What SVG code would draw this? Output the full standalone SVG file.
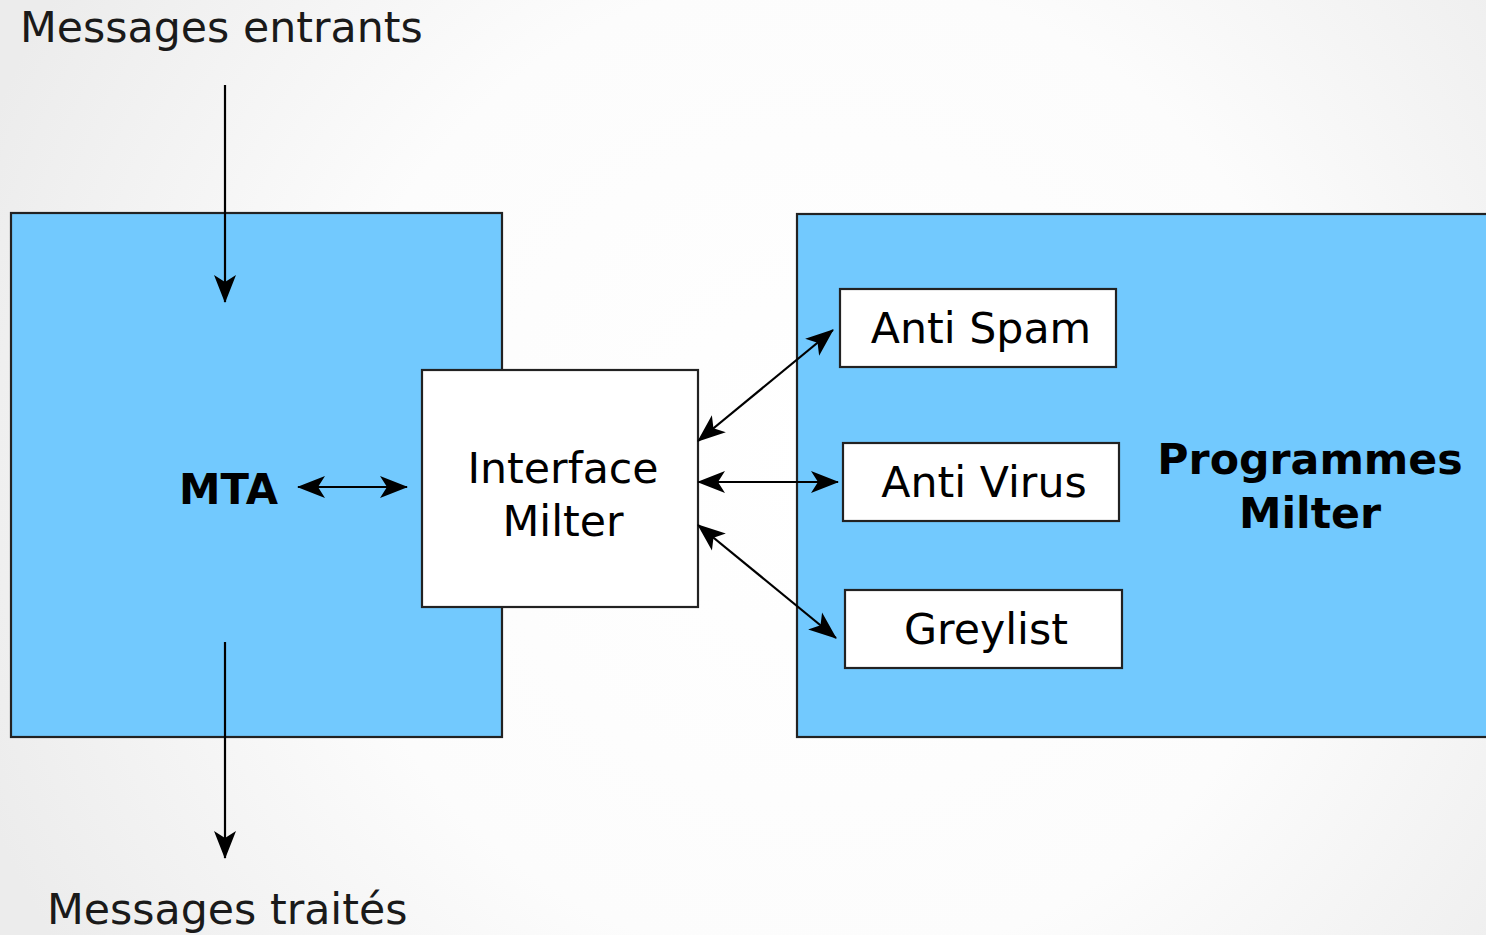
<svg xmlns="http://www.w3.org/2000/svg" width="1486" height="935" viewBox="0 0 1486 935">
  <defs>
    <radialGradient id="bg" cx="820" cy="470" r="900" gradientUnits="userSpaceOnUse">
      <stop offset="0" stop-color="#ffffff"/>
      <stop offset="0.55" stop-color="#fcfcfc"/>
      <stop offset="1" stop-color="#ececec"/>
    </radialGradient>
    <marker id="head" viewBox="-31 -13 33 26" refX="0" refY="0" markerWidth="33" markerHeight="26" markerUnits="userSpaceOnUse" orient="auto-start-reverse">
      <path d="M1,0 L-27,-11 L-20,0 L-27,11 Z" fill="#000"/>
    </marker>
    <style>
      .zone { fill: #72c9fe; stroke: #222; stroke-width: 2.2; }
      .box { fill: #ffffff; stroke: #222; stroke-width: 2.2; }
      .lbl { font-family: "DejaVu Sans", "Liberation Sans", sans-serif; font-size: 42.7px; fill: #000; }
      .outer { fill: #1a1a1a; }
      .bold { font-weight: bold; }
      .mid { text-anchor: middle; }
      .link { stroke: #000; stroke-width: 2.2; fill: none; }
      .one { marker-end: url(#head); }
      .two { marker-start: url(#head); marker-end: url(#head); }
    </style>
  </defs>

  <rect width="1486" height="935" fill="url(#bg)"/>

  <!-- MTA area -->
  <g id="mta">
    <rect class="zone" x="11" y="213" width="491" height="524"/>
    <text class="lbl bold" x="179" y="504" textLength="99" lengthAdjust="spacingAndGlyphs">MTA</text>
  </g>

  <!-- Milter programs area -->
  <g id="programmes">
    <rect class="zone" x="797" y="214" width="700" height="523"/>
    <text class="lbl bold mid" x="1310" y="474">Programmes</text>
    <text class="lbl bold mid" x="1310" y="528">Milter</text>
  </g>

  <g id="interface">
    <rect class="box" x="422" y="370" width="276" height="237"/>
    <text class="lbl mid" x="563" y="483">Interface</text>
    <text class="lbl mid" x="563" y="536">Milter</text>
  </g>

  <g id="antispam">
    <rect class="box" x="840" y="289" width="276" height="78"/>
    <text class="lbl mid" x="981" y="343">Anti Spam</text>
  </g>

  <g id="antivirus">
    <rect class="box" x="843" y="443" width="276" height="78"/>
    <text class="lbl mid" x="984" y="497">Anti Virus</text>
  </g>

  <g id="greylist">
    <rect class="box" x="845" y="590" width="277" height="78"/>
    <text class="lbl mid" x="986" y="644">Greylist</text>
  </g>

  <g id="in-label">
    <text class="lbl outer" x="20" y="42">Messages entrants</text>
  </g>
  <g id="out-label">
    <text class="lbl outer" x="47" y="924">Messages traités</text>
  </g>

  <!-- connectors -->
  <g id="connectors">
    <line class="link one" x1="225" y1="85" x2="225" y2="302"/>
    <line class="link one" x1="225" y1="642" x2="225" y2="858"/>
    <line class="link two" x1="298" y1="487" x2="407" y2="487"/>
    <line class="link two" x1="698" y1="441" x2="833" y2="330"/>
    <line class="link two" x1="698" y1="482" x2="838" y2="482"/>
    <line class="link two" x1="698" y1="525" x2="836" y2="638"/>
  </g>
</svg>
